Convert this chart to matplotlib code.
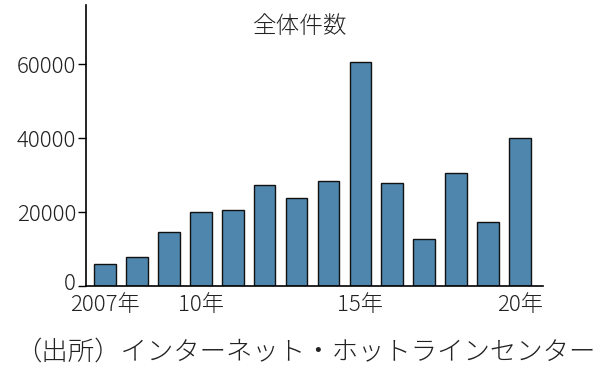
import numpy as np
import matplotlib
matplotlib.use('Agg')
import matplotlib.pyplot as plt
import matplotlib.transforms as mtransforms

plt.rcParams['font.family'] = ['Noto Sans CJK JP', 'DejaVu Sans']
plt.rcParams['font.weight'] = 'light'

# data
years = ['2007', '2008', '2009', '2010', '2011', '2012', '2013',
         '2014', '2015', '2016', '2017', '2018', '2019', '2020']
counts = [5950, 8000, 14700, 19900, 20700, 27300, 23700,
          28300, 60500, 27750, 12600, 30600, 17200, 40100]
tick_idx = [0, 3, 8, 13]
tick_labels = ['2007年', '10年', '15年', '20年']
yticks = [0, 20000, 40000, 60000]

fig = plt.figure(figsize=(6, 3.75), dpi=100)
ax = fig.add_axes([0.143, 0.237, 0.762, 0.75])

x = np.arange(len(years))
ax.bar(x, counts, width=0.68, color='#4e86ad', edgecolor='#111111', linewidth=1.0)

ax.set_xlim(-0.6, 13.72)
ax.set_ylim(0, 76000)
ax.set_yticks(yticks)
ax.set_yticklabels([str(v) for v in yticks], fontsize=16, color='#222222')
ax.set_xticks(tick_idx)
ax.set_xticklabels(tick_labels, fontsize=16, color='#222222')
ax.tick_params(axis='x', length=0, pad=6)
ax.tick_params(axis='y', length=6, width=1, pad=1)
# nudge the "0" label up slightly so it clears the first year label
zero = ax.get_yticklabels()[0]
zero.set_transform(zero.get_transform() +
                   mtransforms.ScaledTranslation(0, 3 / 72, fig.dpi_scale_trans))

for s in ['top', 'right']:
    ax.spines[s].set_visible(False)
for s in ['left', 'bottom']:
    ax.spines[s].set_linewidth(1.2)

fig.text(0.5, 0.93, '全体件数', ha='center', va='center', fontsize=17, color='#222222')
fig.text(0.025, 0.063, '（出所）インターネット・ホットラインセンター', ha='left', va='center',
         fontsize=19, color='#222222')

fig.savefig('out.png', dpi=100)
